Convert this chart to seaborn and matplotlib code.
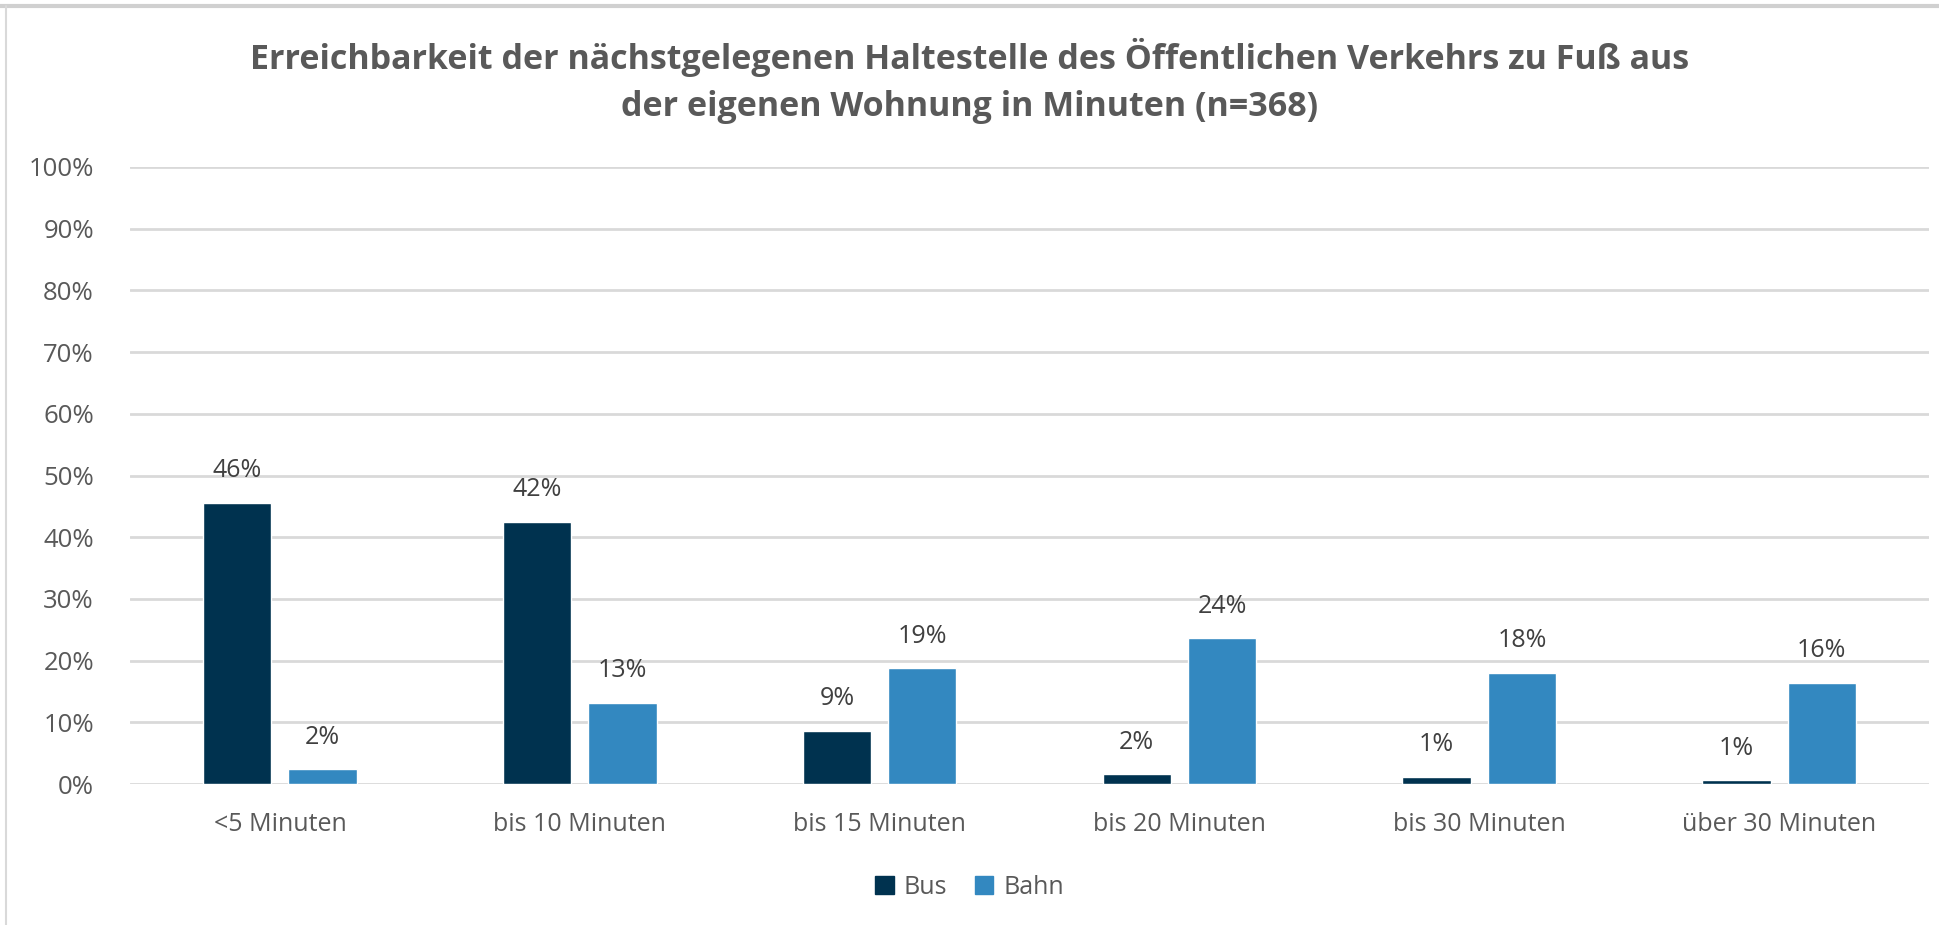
import numpy as np
import pandas as pd
import matplotlib
matplotlib.use("Agg")
import matplotlib.pyplot as plt
import seaborn as sns
from matplotlib.lines import Line2D
from matplotlib.ticker import PercentFormatter

## Data (share of respondents, in percent)
categories = ["<5 Minuten", "bis 10 Minuten", "bis 15 Minuten",
              "bis 20 Minuten", "bis 30 Minuten", "über 30 Minuten"]
bus = [45.6, 42.5, 8.6, 1.6, 1.2, 0.6]
bahn = [2.4, 13.2, 18.8, 23.6, 18.0, 16.4]
series = ["Bus", "Bahn"]

df = pd.DataFrame({
    "Kategorie": categories * 2,
    "Verkehrsmittel": ["Bus"] * len(bus) + ["Bahn"] * len(bahn),
    "Anteil": bus + bahn,
})

sns.set_theme(style="white")
plt.rcParams["font.family"] = ["Open Sans", "DejaVu Sans"]

text_col = "#595959"
grid_col = "#d9d9d9"
palette = {"Bus": "#00324f", "Bahn": "#3388c0"}

fig = plt.figure(figsize=(19.39, 9.25), dpi=100)
ax = fig.add_axes([130 / 1939, 1 - 784 / 925, (1929 - 130) / 1939, (784 - 167) / 925])

sns.barplot(data=df, x="Kategorie", y="Anteil", hue="Verkehrsmittel",
            palette=palette, hue_order=series, order=categories,
            width=0.57, gap=0.2, saturation=1, ax=ax, legend=False)

ax.set_ylim(0, 100)
ax.set_yticks(np.arange(0, 101, 10))
ax.yaxis.set_major_formatter(PercentFormatter(decimals=0))
ax.grid(axis="y", color=grid_col, linewidth=2)
ax.set_axisbelow(True)
for s in ax.spines.values():
    s.set_visible(False)
ax.set_xlabel("")
ax.set_ylabel("")
ax.tick_params(axis="both", length=0, labelcolor=text_col)
ax.tick_params(axis="x", pad=20, labelsize=18)
ax.tick_params(axis="y", pad=26, labelsize=18.5)
ax.set_xlim(-0.5, len(categories) - 0.5)

# value labels above bars
for cont in ax.containers:
    ax.bar_label(cont, labels=[f"{v:.0f}%" for v in cont.datavalues],
                 padding=14, fontsize=18, color="#404040")

fig.text(0.5, 1 - 57 / 925, "Erreichbarkeit der nächstgelegenen Haltestelle des Öffentlichen Verkehrs zu Fuß aus",
         ha="center", va="center", fontsize=24.5, fontweight="bold", color=text_col)
fig.text(0.5, 1 - 107 / 925, "der eigenen Wohnung in Minuten (n=368)",
         ha="center", va="center", fontsize=24.5, fontweight="bold", color=text_col)

handles = [plt.Rectangle((0, 0), 1, 1, color=palette[s]) for s in series]
fig.legend(handles, series, loc="center", bbox_to_anchor=(0.5, 1 - 887 / 925),
           ncol=2, frameon=False, fontsize=18, labelcolor=text_col,
           handlelength=0.75, handleheight=0.75, handletextpad=0.4, columnspacing=1.1)

# chart frame (top and left edges visible)
fig.add_artist(Line2D([0, 1], [1 - 6 / 925] * 2, transform=fig.transFigure,
                      color="#d0d0d0", linewidth=3))
fig.add_artist(Line2D([6 / 1939] * 2, [0, 1 - 6 / 925], transform=fig.transFigure,
                      color="#d9d9d9", linewidth=1.5))

fig.savefig("out.png", dpi=100, facecolor="white")
